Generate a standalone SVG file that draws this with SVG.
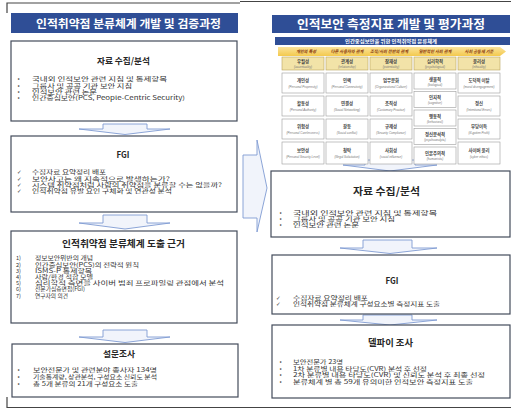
<svg xmlns="http://www.w3.org/2000/svg" width="511" height="411" viewBox="0 0 511 411">
<defs>
<style>
.bar{fill:#2F4E96}
.bt{font-family:"Noto Sans CJK KR",sans-serif;font-weight:bold;fill:#fff}
.box{fill:#fff;stroke:#434B5B;stroke-width:1.2}
.ttl{font-family:"Noto Sans CJK KR",sans-serif;font-weight:bold;fill:#262626}
.b{font-family:"Noto Sans CJK KR",sans-serif;font-size:5.6px;fill:#333}
.dot{font-family:"DejaVu Sans",sans-serif;font-size:5.5px;fill:#333}
.arr{fill:#F1F4FB;stroke:#7F9BD2;stroke-width:0.9}
.frame{stroke:#444;stroke-width:1.2;fill:none}
.hd{fill:#F2E3A8;stroke:#B9A460;stroke-width:0.6}
.cell{fill:#fff;stroke:#9C9C9C;stroke-width:0.6}
.ct{font-family:"Noto Sans CJK KR",sans-serif;font-size:4.4px;font-weight:bold;fill:#444;text-anchor:middle}
.cs{font-family:"Liberation Sans",sans-serif;font-size:3px;font-style:italic;fill:#777;text-anchor:middle}
.yl{font-family:"Noto Sans CJK KR",sans-serif;font-size:4.2px;font-style:italic;font-weight:bold;fill:#8A3A10;text-anchor:middle}
</style>
<linearGradient id="yg" x1="0" y1="0" x2="0" y2="1">
<stop offset="0" stop-color="#FBE39A"/>
<stop offset="1" stop-color="#F3C94E"/>
</linearGradient>
</defs>
<rect width="511" height="411" fill="#fff"/>

<g id="frames">
<path class="frame" d="M7,13 V3 H240"/>
<path class="frame" d="M240,1.5 H511"/>
<path class="frame" d="M7,397 V407.5 H511"/>
</g>

<g id="connectors">
<polygon class="arr" points="103,124 147,124 147,129 170,129 125,134.5 79,129 103,129"/>
<polygon class="arr" points="103,215 147,215 147,223 170,223 125,229 79,223 103,223"/>
<polygon class="arr" points="103,330 147,330 147,337 170,337 125,342.5 79,337 103,337"/>
<polygon class="arr" points="243,155 257,155 257,140 267,188 257,232 257,218 243,218"/>
<polygon class="arr" points="365,160 415,160 415,165 437,165 390,171 343,165 365,165"/>
<polygon class="arr" points="363,240 412,240 412,248 437,248 390,253.5 340,248 363,248"/>
<polygon class="arr" points="363,315 412,315 412,320 437,320 390,325 340,320 363,320"/>
</g>

<g id="left-title">
<rect class="bar" x="11" y="13" width="227" height="20"/>
<text class="bt" x="36" y="27.5" font-size="11" textLength="185" lengthAdjust="spacingAndGlyphs">인적취약점 분류체계 개발 및 검증과정</text>
</g>

<g id="left-data">
<rect class="box" x="11" y="41" width="226" height="80"/>
<text class="ttl" x="97" y="63.5" font-size="8.5" textLength="53" lengthAdjust="spacingAndGlyphs">자료 수집/분석</text>
<text class="dot" x="17" y="81.3">•</text><text class="b" x="32" y="81.3" textLength="135" lengthAdjust="spacingAndGlyphs">국내외 인적보안 관련 지침 및 통제항목</text>
<text class="dot" x="17" y="87.5">•</text><text class="b" x="32" y="87.5" textLength="100" lengthAdjust="spacingAndGlyphs">그룹사 및 공공 기관 보안 지침</text>
<text class="dot" x="17" y="93.7">•</text><text class="b" x="32" y="93.7" textLength="65" lengthAdjust="spacingAndGlyphs">인적보안 관련 논문</text>
<text class="dot" x="17" y="99.9">•</text><text class="b" x="32" y="99.9" textLength="153" lengthAdjust="spacingAndGlyphs">인간중심보안(PCS, People-Centric Security)</text>
</g>

<g id="left-fgi">
<rect class="box" x="11" y="136" width="226" height="76"/>
<text class="ttl" x="116.5" y="157.5" font-size="8.5" textLength="13" lengthAdjust="spacingAndGlyphs">FGI</text>
<text class="dot" x="17" y="174.3">✓</text><text class="b" x="32" y="174.3" textLength="74" lengthAdjust="spacingAndGlyphs">수집자료 요약정리 배포</text>
<text class="dot" x="17" y="180.5">✓</text><text class="b" x="32" y="180.5" textLength="138" lengthAdjust="spacingAndGlyphs">보안사고는 왜 지속적으로 발생하는가?</text>
<text class="dot" x="17" y="186.7">✓</text><text class="b" x="32" y="186.7" textLength="190" lengthAdjust="spacingAndGlyphs">시스템 취약점처럼 사람의 취약점을 분류할 수는 없을까?</text>
<text class="dot" x="17" y="192.9">✓</text><text class="b" x="32" y="192.9" textLength="140" lengthAdjust="spacingAndGlyphs">인적취약점 유발 요인 구체화 및 연관성 분석</text>
</g>

<g id="left-basis">
<rect class="box" x="11" y="231" width="226" height="92"/>
<text class="ttl" x="62" y="246.5" font-size="9" textLength="123" lengthAdjust="spacingAndGlyphs">인적취약점 분류체계 도출 근거</text>
<text class="b" x="16" y="260.3">1)</text><text class="b" x="35" y="260.3" textLength="58" lengthAdjust="spacingAndGlyphs">정보보안위반의 개념</text>
<text class="b" x="16" y="266.5">2)</text><text class="b" x="35" y="266.5" textLength="104" lengthAdjust="spacingAndGlyphs">인간중심보안(PCS)의 전략적 원칙</text>
<text class="b" x="16" y="272.7">3)</text><text class="b" x="35" y="272.7" textLength="57" lengthAdjust="spacingAndGlyphs">ISMS-P 통제항목</text>
<text class="b" x="16" y="278.9">4)</text><text class="b" x="35" y="278.9" textLength="58" lengthAdjust="spacingAndGlyphs">사람/환경 적합 모델</text>
<text class="b" x="16" y="285.1">5)</text><text class="b" x="35" y="285.1" textLength="189" lengthAdjust="spacingAndGlyphs">심리학적 측면을 사이버 범죄 프로파일링 관점에서 분석</text>
<text class="b" x="16" y="291.3">6)</text><text class="b" x="35" y="291.3" textLength="50" lengthAdjust="spacingAndGlyphs">전문가심층면접(FGI)</text>
<text class="b" x="16" y="297.5">7)</text><text class="b" x="35" y="297.5" textLength="33" lengthAdjust="spacingAndGlyphs">연구자의 의견</text>
</g>

<g id="left-survey">
<rect class="box" x="12" y="344" width="226" height="53"/>
<text class="ttl" x="103" y="356.5" font-size="8.5" textLength="32" lengthAdjust="spacingAndGlyphs">설문조사</text>
<text class="dot" x="17" y="372.3">•</text><text class="b" x="33" y="372.3" textLength="124" lengthAdjust="spacingAndGlyphs">보안전문가 및 관련분야 종사자 134명</text>
<text class="dot" x="17" y="378.9">•</text><text class="b" x="33" y="378.9" textLength="124" lengthAdjust="spacingAndGlyphs">기술통계량, 상관분석, 구성요소 신뢰도 분석</text>
<text class="dot" x="17" y="385.5">•</text><text class="b" x="33" y="385.5" textLength="105" lengthAdjust="spacingAndGlyphs">총 5개 분류의 21개 구성요소 도출</text>
</g>

<g id="right-title">
<rect class="bar" x="272" y="15" width="238" height="18"/>
<text class="bt" x="297" y="28.5" font-size="12" textLength="188" lengthAdjust="spacingAndGlyphs">인적보안 측정지표 개발 및 평가과정</text>
</g>

<g id="taxonomy">
<rect class="bar" x="275" y="37" width="235" height="8"/>
<text class="bt" x="345" y="43.2" font-size="5" textLength="92" lengthAdjust="spacingAndGlyphs">인간중심보안을 위한 인적취약점 분류체계</text>
<polygon points="278,47 500,47 506,51.5 500,56 278,56" fill="url(#yg)"/>
<text class="yl" x="306" y="53">개인의 특성</text>
<text class="yl" x="347" y="53">다른 사용자와 관계</text>
<text class="yl" x="389" y="53">조직/사회 전반의 관계</text>
<text class="yl" x="435" y="53">일반적인 사회 관계</text>
<text class="yl" x="479" y="53">사회 공동체 기준</text>

<rect class="hd" x="282" y="57" width="42" height="13"/>
<rect class="hd" x="326" y="57" width="42" height="13"/>
<rect class="hd" x="370" y="57" width="42" height="13"/>
<rect class="hd" x="414" y="57" width="42" height="13"/>
<rect class="hd" x="458" y="57" width="42" height="13"/>
<text class="ct" x="303" y="63.3">우월성</text><text class="cs" x="303" y="68">(accentuality)</text>
<text class="ct" x="347" y="63.3">관계성</text><text class="cs" x="347" y="68">(relationship)</text>
<text class="ct" x="391" y="63.3">잠재성</text><text class="cs" x="391" y="68">(potentiality)</text>
<text class="ct" x="435" y="63.3">심리학적</text><text class="cs" x="435" y="68">(psychological)</text>
<text class="ct" x="479" y="63.3">윤리성</text><text class="cs" x="479" y="68">(ethicality)</text>

<rect class="cell" x="282" y="73" width="42" height="20"/>
<rect class="cell" x="282" y="96" width="42" height="20"/>
<rect class="cell" x="282" y="119" width="42" height="20"/>
<rect class="cell" x="282" y="142" width="42" height="22"/>
<text class="ct" x="303" y="82">개인성</text><text class="cs" x="303" y="87.5">(Personal Propensity)</text>
<text class="ct" x="303" y="105">활동성</text><text class="cs" x="303" y="110.5">(Personal Authority)</text>
<text class="ct" x="303" y="128">위험성</text><text class="cs" x="303" y="133.5">(Personal Carelessness)</text>
<text class="ct" x="303" y="152">보안성</text><text class="cs" x="303" y="157.5">(Personal Security Level)</text>

<rect class="cell" x="326" y="73" width="42" height="20"/>
<rect class="cell" x="326" y="96" width="42" height="20"/>
<rect class="cell" x="326" y="119" width="42" height="20"/>
<rect class="cell" x="326" y="142" width="42" height="22"/>
<text class="ct" x="347" y="82">인맥</text><text class="cs" x="347" y="87.5">(Personal Connectivity)</text>
<text class="ct" x="347" y="105">연결성</text><text class="cs" x="347" y="110.5">(Social Networking)</text>
<text class="ct" x="347" y="128">갈등</text><text class="cs" x="347" y="133.5">(Social conflict)</text>
<text class="ct" x="347" y="152">청탁</text><text class="cs" x="347" y="157.5">(Illegal Solicitation)</text>

<rect class="cell" x="370" y="73" width="42" height="20"/>
<rect class="cell" x="370" y="96" width="42" height="20"/>
<rect class="cell" x="370" y="119" width="42" height="20"/>
<rect class="cell" x="370" y="142" width="42" height="22"/>
<text class="ct" x="391" y="82">업무문화</text><text class="cs" x="391" y="87.5">(Organizational Culture)</text>
<text class="ct" x="391" y="105">조직성</text><text class="cs" x="391" y="110.5">(Customary Practice)</text>
<text class="ct" x="391" y="128">규제성</text><text class="cs" x="391" y="133.5">(Security Compliance)</text>
<text class="ct" x="391" y="152">사회성</text><text class="cs" x="391" y="157.5">(social influence)</text>

<rect class="cell" x="414" y="73" width="42" height="16"/>
<rect class="cell" x="414" y="91.5" width="42" height="16"/>
<rect class="cell" x="414" y="110" width="42" height="16"/>
<rect class="cell" x="414" y="128.5" width="42" height="16"/>
<rect class="cell" x="414" y="147" width="42" height="17"/>
<text class="ct" x="435" y="80.5">생물적</text><text class="cs" x="435" y="85.5">(biological)</text>
<text class="ct" x="435" y="99">인지적</text><text class="cs" x="435" y="104">(cognitive)</text>
<text class="ct" x="435" y="117.5">행동적</text><text class="cs" x="435" y="122.5">(behavioral)</text>
<text class="ct" x="435" y="136">정신분석적</text><text class="cs" x="435" y="141">(psychoanalytic)</text>
<text class="ct" x="435" y="155">인본주의적</text><text class="cs" x="435" y="160">(humanistic)</text>

<rect class="cell" x="458" y="73" width="42" height="20"/>
<rect class="cell" x="458" y="96" width="42" height="20"/>
<rect class="cell" x="458" y="119" width="42" height="20"/>
<rect class="cell" x="458" y="142" width="42" height="22"/>
<text class="ct" x="479" y="82">도덕적 이탈</text><text class="cs" x="479" y="87.5">(moral disengagement)</text>
<text class="ct" x="479" y="105">정신</text><text class="cs" x="479" y="110.5">(Intentional Errors)</text>
<text class="ct" x="479" y="128">부당이득</text><text class="cs" x="479" y="133.5">(ill-gotten Profit)</text>
<text class="ct" x="479" y="152">사이버 윤리</text><text class="cs" x="479" y="157.5">(cyber ethics)</text>
</g>

<g id="right-data">
<rect class="box" x="271" y="171" width="239" height="66"/>
<text class="ttl" x="353" y="194.5" font-size="10" textLength="67" lengthAdjust="spacingAndGlyphs">자료 수집/분석</text>
<text class="dot" x="279" y="214.5">•</text><text class="b" x="293" y="214.5" textLength="144" lengthAdjust="spacingAndGlyphs">국내외 인적보안 관련 지침 및 통제항목</text>
<text class="dot" x="279" y="220.6">•</text><text class="b" x="293" y="220.6" textLength="102" lengthAdjust="spacingAndGlyphs">그룹사 및 공공 기관 보안 지침</text>
<text class="dot" x="279" y="226.7">•</text><text class="b" x="293" y="226.7" textLength="66" lengthAdjust="spacingAndGlyphs">인적보안 관련 논문</text>
</g>

<g id="right-fgi">
<rect class="box" x="272" y="255" width="238" height="59"/>
<text class="ttl" x="385.5" y="284" font-size="8.5" textLength="13" lengthAdjust="spacingAndGlyphs">FGI</text>
<text class="dot" x="276" y="299.5">✓</text><text class="b" x="293" y="299.5" textLength="75" lengthAdjust="spacingAndGlyphs">수집자료 요약정리 배포</text>
<text class="dot" x="276" y="306.3">✓</text><text class="b" x="293" y="306.3" textLength="147" lengthAdjust="spacingAndGlyphs">인적취약점 분류체계 구성요소별 측정지표 도출</text>
</g>

<g id="right-delphi">
<rect class="box" x="272" y="325" width="238" height="73"/>
<text class="ttl" x="368" y="345.5" font-size="9" textLength="45" lengthAdjust="spacingAndGlyphs">델파이 조사</text>
<text class="dot" x="279" y="364">•</text><text class="b" x="293" y="364" textLength="50" lengthAdjust="spacingAndGlyphs">보안전문가 23명</text>
<text class="dot" x="279" y="370.6">•</text><text class="b" x="293" y="370.6" textLength="134" lengthAdjust="spacingAndGlyphs">1차 분류별 내용 타당도(CVR) 분석 후 선정</text>
<text class="dot" x="279" y="377.2">•</text><text class="b" x="293" y="377.2" textLength="192" lengthAdjust="spacingAndGlyphs">2차 분류별 내용 타당도(CVR) 및 신뢰도 분석 후 최종 선정</text>
<text class="dot" x="279" y="383.8">•</text><text class="b" x="293" y="383.8" textLength="180" lengthAdjust="spacingAndGlyphs">분류체계 별 총 59개 유의미한 인적보안 측정지표 도출</text>
</g>
</svg>
